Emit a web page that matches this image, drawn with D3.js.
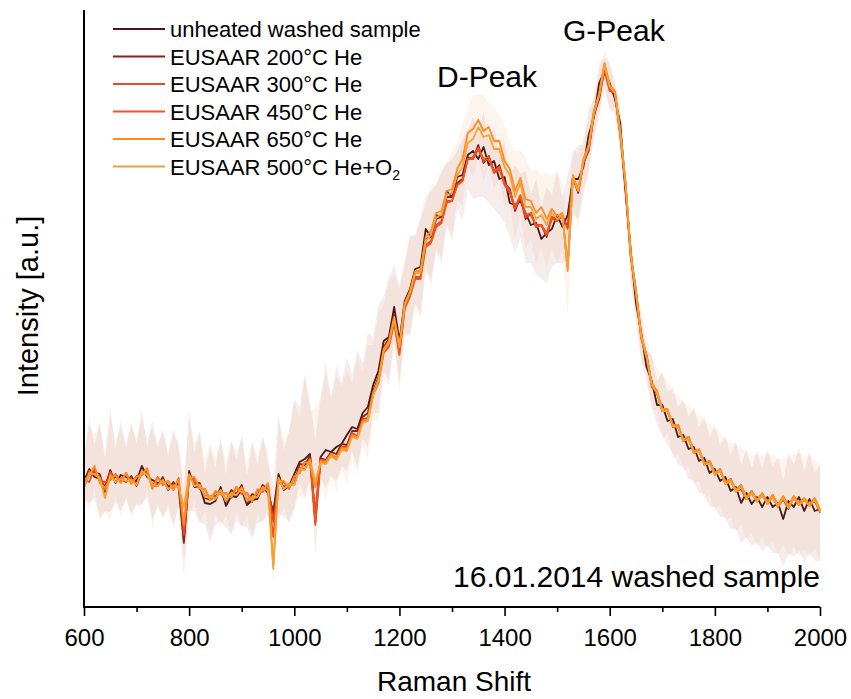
<!DOCTYPE html>
<html><head><meta charset="utf-8">
<script src="https://cdn.jsdelivr.net/npm/d3@7"></script>
<style>
body{margin:0;background:#fff;}
text{font-family:Arial,"Liberation Sans",sans-serif;fill:#000;}
</style></head>
<body><svg id="c" width="851" height="699"></svg>
<script>
// Raman shift grid (cm^-1), one sample every 10 units
const ramanShift = d3.range(600, 2001, 10);

const seriesNames = ["unheated washed sample","EUSAAR 200°C He","EUSAAR 300°C He","EUSAAR 450°C He","EUSAAR 650°C He","EUSAAR 500°C He+O2"];
const seriesColors = ["#4a1812","#862616","#e8492c","#f2541c","#ff8a1e","#f2a332"];

const unheated = [
126,138,130,128,120,137,124,132,130,127,
126,141,130,127,124,126,121,120,124,66,
136,120,121,104,103,106,120,101,111,110,
117,102,107,108,120,114,95,133,117,121,
133,145,148,153,88,150,157,155,160,163,
172,180,178,194,200,222,236,266,270,300,
266,306,318,338,340,378,370,392,390,416,
410,430,432,452,456,448,460,442,446,428,
430,404,402,406,394,382,384,368,374,378,
392,380,392,428,428,440,472,490,524,536,
524,508,484,416,356,304,274,240,226,202,
202,186,188,170,172,158,160,146,149,134,
138,126,130,116,120,104,114,103,110,100,
110,100,104,88,106,100,110,96,108,96,
98];
const eusaar200 = [
120,133,135,133,115,131,130,128,125,131,
121,135,135,121,121,130,117,125,119,64,
131,124,124,109,107,111,115,105,117,113,
122,104,113,111,122,117,92,127,120,123,
123,143,142,151,84,149,147,155,153,163,
162,176,176,190,194,216,230,260,268,292,
258,302,316,334,336,368,370,388,390,410,
410,424,428,450,448,462,444,451,436,442,
424,418,396,410,388,394,380,382,370,390,
388,390,380,430,414,444,456,492,508,540,
520,512,472,420,352,316,270,252,222,214,
198,196,182,182,166,170,156,156,144,146,
134,136,124,128,116,118,108,116,106,112,
104,110,100,108,98,110,104,108,102,106,
96];
const eusaar300 = [
128,125,139,126,125,127,133,125,134,124,
131,132,137,119,130,122,126,117,129,72,
128,128,118,118,107,115,113,114,109,120,
113,114,105,117,115,123,85,124,125,118,
131,134,145,143,96,147,146,153,149,160,
160,174,171,188,189,214,226,256,262,286,
254,300,312,330,330,362,366,382,386,406,
406,422,426,448,448,458,446,448,434,438,
422,414,398,410,390,392,382,382,374,390,
386,392,378,428,416,444,458,494,510,536,
516,514,474,422,350,314,268,250,220,214,
196,197,180,181,166,168,154,157,142,145,
132,138,123,127,117,122,109,115,106,113,
103,112,101,110,100,109,102,108,101,108,
96];
const eusaar450 = [
120,136,132,130,117,135,125,129,126,128,
123,136,134,123,122,127,118,122,121,80,
133,123,122,111,111,110,117,107,114,112,
120,107,110,110,120,116,70,129,118,123,
123,139,138,148,82,145,145,152,148,159,
158,172,170,186,188,212,224,254,260,284,
252,298,310,328,328,360,364,380,384,404,
406,422,426,448,450,459,448,450,436,440,
424,416,400,412,392,394,380,382,372,388,
386,392,340,430,416,446,460,496,512,542,
520,514,476,424,352,314,270,250,222,214,
196,196,182,180,166,169,154,157,143,144,
134,136,124,126,116,121,108,114,106,112,
104,110,100,110,100,110,102,108,102,107,
94];
const eusaar650 = [
127,131,141,124,119,128,132,124,134,123,
130,132,139,118,129,123,126,117,128,82,
129,130,119,118,107,116,113,114,110,120,
115,114,106,118,116,124,42,125,126,119,
130,134,145,143,120,146,145,153,149,159,
158,172,170,186,188,214,228,258,266,290,
262,304,316,336,336,370,376,394,396,416,
418,438,448,474,478,487,476,480,466,466,
446,438,416,429,408,406,394,400,388,398,
391,394,336,432,418,448,462,496,514,544,
522,516,476,426,354,316,272,252,224,216,
198,198,182,182,168,170,156,158,144,146,
134,138,125,128,117,122,110,116,107,114,
105,112,102,111,101,111,104,109,103,109,
98];
const eusaar500O2 = [
119,134,133,129,109,132,125,128,126,127,
122,136,132,122,121,127,118,121,120,100,
132,121,122,110,111,108,117,106,114,112,
119,106,110,110,120,116,38,129,118,123,
122,138,137,147,125,144,143,151,147,157,
156,170,168,184,186,212,226,256,264,288,
260,302,314,334,334,366,372,390,392,412,
414,432,440,464,468,480,470,472,458,458,
440,432,410,424,400,400,388,392,382,394,
388,392,338,430,416,446,460,494,512,542,
520,514,474,424,352,314,270,250,222,214,
196,196,181,180,166,168,154,156,142,144,
132,136,123,126,115,120,108,114,105,112,
103,110,100,109,99,109,102,107,101,107,
96];

// spread of the shaded uncertainty band (above / below the curve)
const spreadUp = [
25,50,32,58,30,62,35,55,30,58,
38,56,30,60,35,52,30,58,36,50,
60,34,55,30,58,34,50,32,56,36,
54,30,58,34,52,32,28,60,40,56,
75,55,85,52,80,60,88,55,82,62,
78,52,80,50,74,48,66,44,60,42,
56,38,54,34,50,32,46,30,44,28,
38,26,36,24,34,26,36,24,34,26,
36,26,40,28,42,30,44,32,46,34,
44,30,40,26,34,22,26,18,20,14,
20,14,17,12,16,13,20,17,26,24,
34,28,32,30,36,32,40,34,42,36,
44,36,42,36,46,38,44,36,46,38,
48,40,46,38,48,42,50,40,48,38,
44];
const spreadDown = [
18,34,22,38,24,42,20,36,22,34,
24,38,20,40,24,36,22,38,24,34,
40,24,36,22,38,24,34,22,38,24,
36,22,38,24,34,22,18,40,26,36,
34,22,38,24,36,22,38,24,34,22,
36,24,38,26,40,28,42,30,44,32,
44,32,46,34,48,36,48,36,46,34,
44,32,46,34,48,38,50,38,48,36,
46,34,48,36,50,38,52,40,50,38,
48,36,46,34,40,28,34,22,28,18,
26,16,26,20,30,20,26,16,26,20,
30,24,34,28,32,30,34,32,36,34,
38,36,40,38,42,40,44,42,46,44,
48,46,50,48,52,50,54,52,54,50,
52];

const majorTicks = [600,800,1000,1200,1400,1600,1800,2000];
const minorTicks = [700,900,1100,1300,1500,1700,1900];

const allSeries = [unheated, eusaar200, eusaar300, eusaar450, eusaar650, eusaar500O2];

const svg = d3.select("#c");
svg.append("rect").attr("width",851).attr("height",699).attr("fill","#fff");

const x = d3.scaleLinear().domain([600,2000]).range([84,820]);
const y = d3.scaleLinear().domain([0,597]).range([607,10]);

const g = svg.append("g");

// bands
function band(vals, color, op){
  const area = d3.area()
    .x((d,i)=>x(ramanShift[i]))
    .y0((d,i)=>y(vals[i]-spreadDown[i]))
    .y1((d,i)=>y(vals[i]+spreadUp[i]));
  g.append("path").datum(vals).attr("d",area).attr("fill",color).attr("fill-opacity",op);
}
band(unheated, "#c08a84", 0.16);
band(eusaar650, "#f3b08a", 0.14);

// lines
const line = d3.line().x((d,i)=>x(ramanShift[i])).y(d=>y(d));
allSeries.forEach((s,k)=>{
  g.append("path").datum(s).attr("d",line)
    .attr("fill","none").attr("stroke",seriesColors[k])
    .attr("stroke-width",1.8).attr("stroke-linejoin","round");
});

// x axis
const xAxis = d3.axisBottom(x).tickValues(majorTicks).tickSize(9).tickPadding(13).tickFormat(d3.format("d"));
const ax = svg.append("g").attr("transform","translate(0,607)").call(xAxis);
ax.select(".domain").attr("stroke","#000").attr("stroke-width",2).attr("d","M84,0H820");
ax.selectAll(".tick line").attr("stroke","#000").attr("stroke-width",1.6);
ax.selectAll(".tick text").attr("font-size",24).attr("font-family",'Arial,"Liberation Sans",sans-serif').attr("fill","#000");
const axm = svg.append("g").attr("transform","translate(0,607)")
  .call(d3.axisBottom(x).tickValues(minorTicks).tickSize(5).tickFormat(""));
axm.select(".domain").remove();
axm.selectAll(".tick line").attr("stroke","#000").attr("stroke-width",1.6);

// y axis line (no ticks)
svg.append("line").attr("x1",84).attr("x2",84).attr("y1",10).attr("y2",608)
  .attr("stroke","#000").attr("stroke-width",2);

// axis titles
svg.append("text").attr("x",454).attr("y",691).attr("text-anchor","middle")
  .attr("font-size",28).text("Raman Shift");
svg.append("text").attr("transform","translate(38,306) rotate(-90)").attr("text-anchor","middle")
  .attr("font-size",29).text("Intensity [a.u.]");

// annotations
svg.append("text").attr("x",437).attr("y",87).attr("font-size",30).text("D-Peak");
svg.append("text").attr("x",563).attr("y",41).attr("font-size",30).text("G-Peak");
svg.append("text").attr("x",820).attr("y",587).attr("text-anchor","end").attr("font-size",30).text("16.01.2014 washed sample");

// legend
const lg = svg.append("g");
seriesNames.forEach((n,k)=>{
  const ry = 29 + k*27.5;
  lg.append("line").attr("x1",113).attr("x2",165).attr("y1",ry).attr("y2",ry)
    .attr("stroke",seriesColors[k]).attr("stroke-width",2);
  const t = lg.append("text").attr("x",170).attr("y",ry+8).attr("font-size",22);
  if (n.endsWith("O2")) {
    t.append("tspan").text(n.slice(0,-1));
    t.append("tspan").attr("font-size",14).attr("dy",5).text("2");
  } else t.text(n);
});
</script></body></html>
